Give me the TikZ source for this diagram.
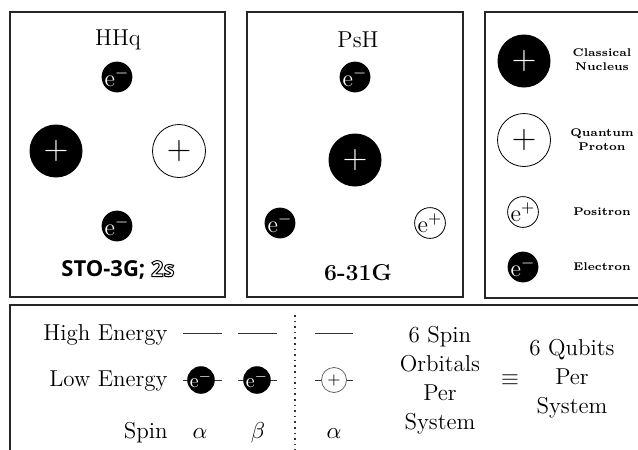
\RequirePackage{fix-cm}
\documentclass[tikz,border=0pt]{standalone}
\usepackage{fontspec}
\newfontfamily\opensans{Open Sans}
\newcommand{\outlinetext}[1]{\special{pdf:literal direct 1 Tr 0.5 w}#1\special{pdf:literal direct 0 Tr}}
\begin{document}
\begin{tikzpicture}[x=0.5pt,y=-0.5pt,
  box/.style={draw=black!85, line width=1pt},
  elec/.style={circle, fill=black, text=white, minimum size=14pt, inner sep=0pt, font=\fontsize{12}{12}\selectfont},
  posi/.style={circle, draw=black, line width=0.4pt, fill=white, text=black, minimum size=14pt, inner sep=0pt, font=\fontsize{12}{12}\selectfont},
  nuc/.style={circle, fill=black, text=white, minimum size=26.5pt, inner sep=0pt, font=\fontsize{17}{17}\selectfont},
  qprot/.style={circle, draw=black, line width=0.4pt, text=black, minimum size=26.5pt, inner sep=0pt, font=\fontsize{17}{17}\selectfont},
  ttl/.style={font=\fontsize{11.5}{14}\selectfont, inner sep=0pt},
  leg/.style={font=\fontsize{5.6}{7}\selectfont\bfseries, align=center, inner sep=0pt},
  lbl/.style={font=\fontsize{11.5}{14}\selectfont, inner sep=0pt},
  lvl/.style={line width=0.5pt, black!80},
  smallelec/.style={elec, minimum size=12.5pt, font=\fontsize{10}{10}\selectfont},
  smallpos/.style={circle, draw=black!60, line width=0.4pt, fill=white, minimum size=12.5pt, inner sep=0pt, font=\fontsize{8}{8}\selectfont},
]
\clip (0,0) rectangle (638,450);
\fill[white] (0,0) rectangle (638,450);
% boxes
\draw[box] (10,12) rectangle (225,297);
\draw[box] (247,12) rectangle (463,297);
\draw[box] (485,12) rectangle (670,298);
\draw[box, line width=1.2pt] (10,305) rectangle (670,480);

% Box 1: HHq
\node[ttl] (hhq) at (118,40) {HHq};
\node[elec] (e1) at (117,77) {$\mathrm{e}^{-}$};
\node[nuc] (n1) at (56,151) {$+$};
\node[qprot] (p1) at (179,151) {$+$};
\node[elec] (e2) at (117,226) {$\mathrm{e}^{-}$};
\node[font=\opensans\bfseries\fontsize{11}{13}\selectfont, inner sep=0pt] (b1) at (118,270) {STO-3G; \outlinetext{2s}};

% Box 2: PsH
\node[ttl] (psh) at (358,40) {PsH};
\node[elec] (e3) at (355,77) {$\mathrm{e}^{-}$};
\node[nuc] (n2) at (355,160) {$+$};
\node[elec] (e4) at (280,223) {$\mathrm{e}^{-}$};
\node[posi] (ps1) at (430,223) {$\mathrm{e}^{+}$};
\node[ttl, font=\fontsize{11.5}{14}\selectfont\bfseries] (b2) at (358,273) {6-31G};

% Box 3: legend
\node[nuc] (ln) at (524,61) {$+$};
\node[leg] (lnt) at (602,60) {Classical\\Nucleus};
\node[qprot] (lq) at (524,140) {$+$};
\node[leg] (lqt) at (602,140) {Quantum\\Proton};
\node[posi] (lp) at (523,212) {$\mathrm{e}^{+}$};
\node[leg] (lpt) at (602,212) {Positron};
\node[elec] (le) at (523,267) {$\mathrm{e}^{-}$};
\node[leg] (let) at (602,267) {Electron};

% Bottom box
\node[lbl, anchor=base east] (he) at (168,340) {High Energy};
\node[lbl, anchor=base east] (le2) at (168,386) {Low Energy};
\node[lbl, anchor=base east] (sp) at (168,438) {Spin};

\coordinate (h1a) at (183,333); \coordinate (h1b) at (222,333);
\coordinate (h2a) at (238,333); \coordinate (h2b) at (277,333);
\coordinate (h3a) at (315,333); \coordinate (h3b) at (353,333);
\draw[lvl] (h1a) -- (h1b);
\draw[lvl] (h2a) -- (h2b);
\draw[lvl] (h3a) -- (h3b);

\coordinate (l1a) at (183,380); \coordinate (l1b) at (222,380);
\coordinate (l2a) at (238,380); \coordinate (l2b) at (277,380);
\coordinate (l3a) at (315,380); \coordinate (l3b) at (353,380);
\draw[lvl] (l1a) -- (l1b);
\draw[lvl] (l2a) -- (l2b);
\draw[lvl] (l3a) -- (l3b);
\node[smallelec] (be1) at (201,380) {$\mathrm{e}^{-}$};
\node[smallelec] (be2) at (257,380) {$\mathrm{e}^{-}$};
\node[smallpos] (bp1) at (334,380) {$+$};

\node[lbl, anchor=base] (a1) at (200,438) {$\alpha$};
\node[lbl, anchor=base] (bt) at (258,438) {$\beta$};
\node[lbl, anchor=base] (a2) at (334,438) {$\alpha$};

\coordinate (dtop) at (295,315);
\coordinate (dbot) at (295,470);
\draw[dotted, line width=0.8pt, black!80] (dtop) -- (dbot);

\node[lbl, align=center, font=\fontsize{11.5}{14.5}\selectfont] (orb) at (440,380) {6 Spin\\Orbitals\\Per\\System};
\node[lbl] (eq) at (510,380) {$\equiv$};
\node[lbl, align=center, font=\fontsize{11.5}{14.5}\selectfont] (qub) at (572,379) {6 Qubits\\Per\\System};
\end{tikzpicture}
\end{document}
